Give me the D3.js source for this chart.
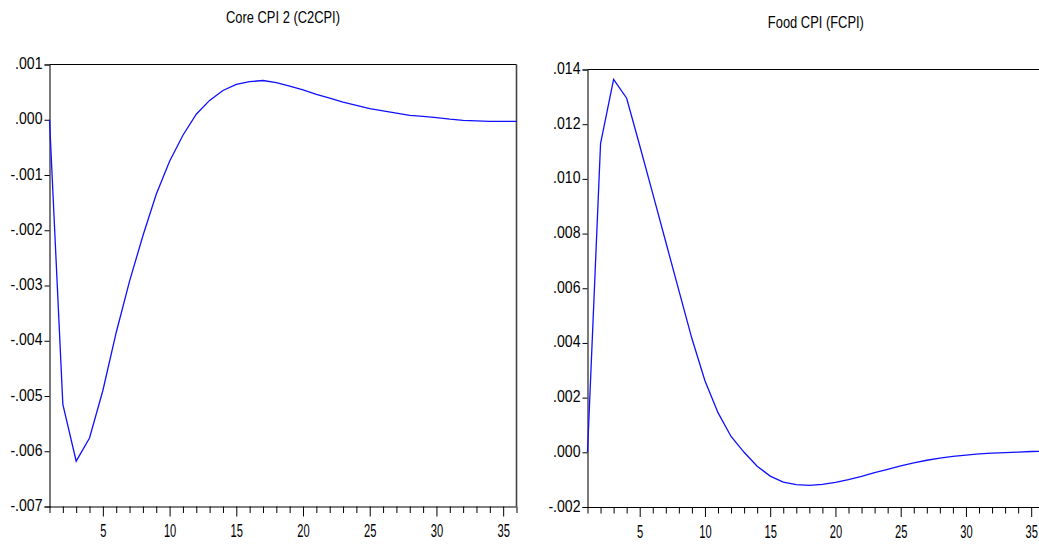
<!DOCTYPE html>
<html>
<head>
<meta charset="utf-8">
<script src="https://cdn.jsdelivr.net/npm/d3@7"></script>
<style>
  html, body { margin: 0; padding: 0; background: #fff; }
  svg { display: block; }
  text { font-family: "Liberation Sans", Arial, "Helvetica", sans-serif; fill: #000; }
</style>
</head>
<body>
<svg id="chart" width="1039" height="544"></svg>
<script>
// ---------- data ----------
const periods = d3.range(1, 37); // 1..36

const titles = ["Core CPI 2 (C2CPI)", "Food CPI (FCPI)"];

const c2cpi = [
  0.00000, -0.00515, -0.00618, -0.00576, -0.00490, -0.00385, -0.00292, -0.00210,
  -0.00135, -0.00075, -0.00028, 0.00010, 0.00035, 0.00053, 0.00064, 0.00069,
  0.00071, 0.00067, 0.00061, 0.00054, 0.00046, 0.00039, 0.00032, 0.00026,
  0.00020, 0.00016, 0.00012, 0.00008, 0.00006, 0.00004, 0.00001, -0.00001,
  -0.00002, -0.00003, -0.00003, -0.00003
];

const fcpi = [
  0.00000, 0.01129, 0.01364, 0.01295, 0.01122, 0.00946, 0.00769, 0.00592,
  0.00416, 0.00262, 0.00145, 0.00058, 0.00000, -0.00051, -0.00087, -0.00109,
  -0.00118, -0.00121, -0.00117, -0.00110, -0.00100, -0.00088, -0.00074, -0.00062,
  -0.00050, -0.00039, -0.00029, -0.00021, -0.00015, -0.00010, -0.00006, -0.00003,
  -0.00001, 0.00001, 0.00003, 0.00004
];

const yTicks1 = [0.001, 0.000, -0.001, -0.002, -0.003, -0.004, -0.005, -0.006, -0.007];
const yLabels1 = [".001", ".000", "-.001", "-.002", "-.003", "-.004", "-.005", "-.006", "-.007"];
const yTicks2 = [0.014, 0.012, 0.010, 0.008, 0.006, 0.004, 0.002, 0.000, -0.002];
const yLabels2 = [".014", ".012", ".010", ".008", ".006", ".004", ".002", ".000", "-.002"];

const xMajor = [5, 10, 15, 20, 25, 30, 35];
const xLabels = ["5", "10", "15", "20", "25", "30", "35"];
const xDomain = [1, 36];

// ---------- layout ----------
const panels = [
  { title: titles[0], values: c2cpi, yDomain: [-0.007, 0.001], yTicks: yTicks1, yLabels: yLabels1,
    left: 49.5, right: 516.5, top: 64.5, bottom: 506.5, rightBorder: true },
  { title: titles[1], values: fcpi, yDomain: [-0.002, 0.014], yTicks: yTicks2, yLabels: yLabels2,
    left: 587.5, right: 1044.25, top: 69.5, bottom: 507, rightBorder: false }
];

const Y_FONT = 16, Y_SX = 0.88;
const X_FONT = 18, X_SX = 0.62;
const T_FONT = 17, T_SX = 0.76;

const svg = d3.select("#chart");

panels.forEach(p => {
  const x = d3.scaleLinear().domain(xDomain).range([p.left, p.right]);
  const y = d3.scaleLinear().domain(p.yDomain).range([p.bottom, p.top]);
  const g = svg.append("g");

  // title
  g.append("text")
    .attr("transform", `translate(${(p.left + p.right) / 2},${p.top - 41.5}) scale(${T_SX},1)`)
    .attr("text-anchor", "middle")
    .style("font-size", T_FONT + "px")
    .text(p.title);

  // frame (top and optional right)
  g.append("line").attr("x1", p.left).attr("x2", p.right).attr("y1", p.top).attr("y2", p.top)
    .attr("stroke", "#000").attr("stroke-width", 1.2);
  if (p.rightBorder) {
    g.append("line").attr("x1", p.right).attr("x2", p.right).attr("y1", p.top).attr("y2", p.bottom)
      .attr("stroke", "#444").attr("stroke-width", 1.6);
  }

  // y axis
  const yAxis = d3.axisLeft(y)
    .tickValues(p.yTicks)
    .tickSize(5)
    .tickPadding(3)
    .tickFormat((d, i) => p.yLabels[i]);
  const ya = g.append("g").attr("transform", `translate(${p.left},0)`).call(yAxis);
  ya.select(".domain").attr("stroke", "#222").attr("stroke-width", 1.2);
  ya.selectAll(".tick line").attr("stroke", "#000");
  ya.selectAll(".tick text")
    .style("font-size", Y_FONT + "px")
    .attr("font-family", null)
    .attr("font-size", null)
    .attr("fill", "#000")
    .attr("x", -7 / Y_SX)
    .attr("dy", "0.25em")
    .attr("transform", `scale(${Y_SX},1)`);

  // x axis minor ticks
  const xMinor = d3.axisBottom(x)
    .tickValues(periods.filter(d => !xMajor.includes(d)))
    .tickSize(6.5)
    .tickFormat("");
  const xm = g.append("g").attr("transform", `translate(0,${p.bottom})`).call(xMinor);
  xm.select(".domain").remove();
  xm.selectAll(".tick line").attr("stroke", "#000");

  // x axis major
  const xAxis = d3.axisBottom(x)
    .tickValues(xMajor)
    .tickSize(10)
    .tickPadding(4)
    .tickFormat((d, i) => xLabels[i]);
  const xa = g.append("g").attr("transform", `translate(0,${p.bottom})`).call(xAxis);
  xa.select(".domain").attr("d", `M${p.left},0.5H${p.right}`).attr("stroke", "#000").attr("stroke-width", 1.2);
  xa.selectAll(".tick line").attr("stroke", "#000");
  xa.selectAll(".tick text")
    .style("font-size", X_FONT + "px")
    .attr("font-family", null)
    .attr("font-size", null)
    .attr("fill", "#000")
    .attr("y", 31)
    .attr("dy", 0)
    .attr("transform", `scale(${X_SX},1)`);

  // response line
  const line = d3.line()
    .x((d, i) => x(periods[i]))
    .y(d => y(d));
  g.append("path")
    .datum(p.values)
    .attr("d", line)
    .attr("fill", "none")
    .attr("stroke", "#1010ff")
    .attr("stroke-width", 1.3);
});
</script>
</body>
</html>
